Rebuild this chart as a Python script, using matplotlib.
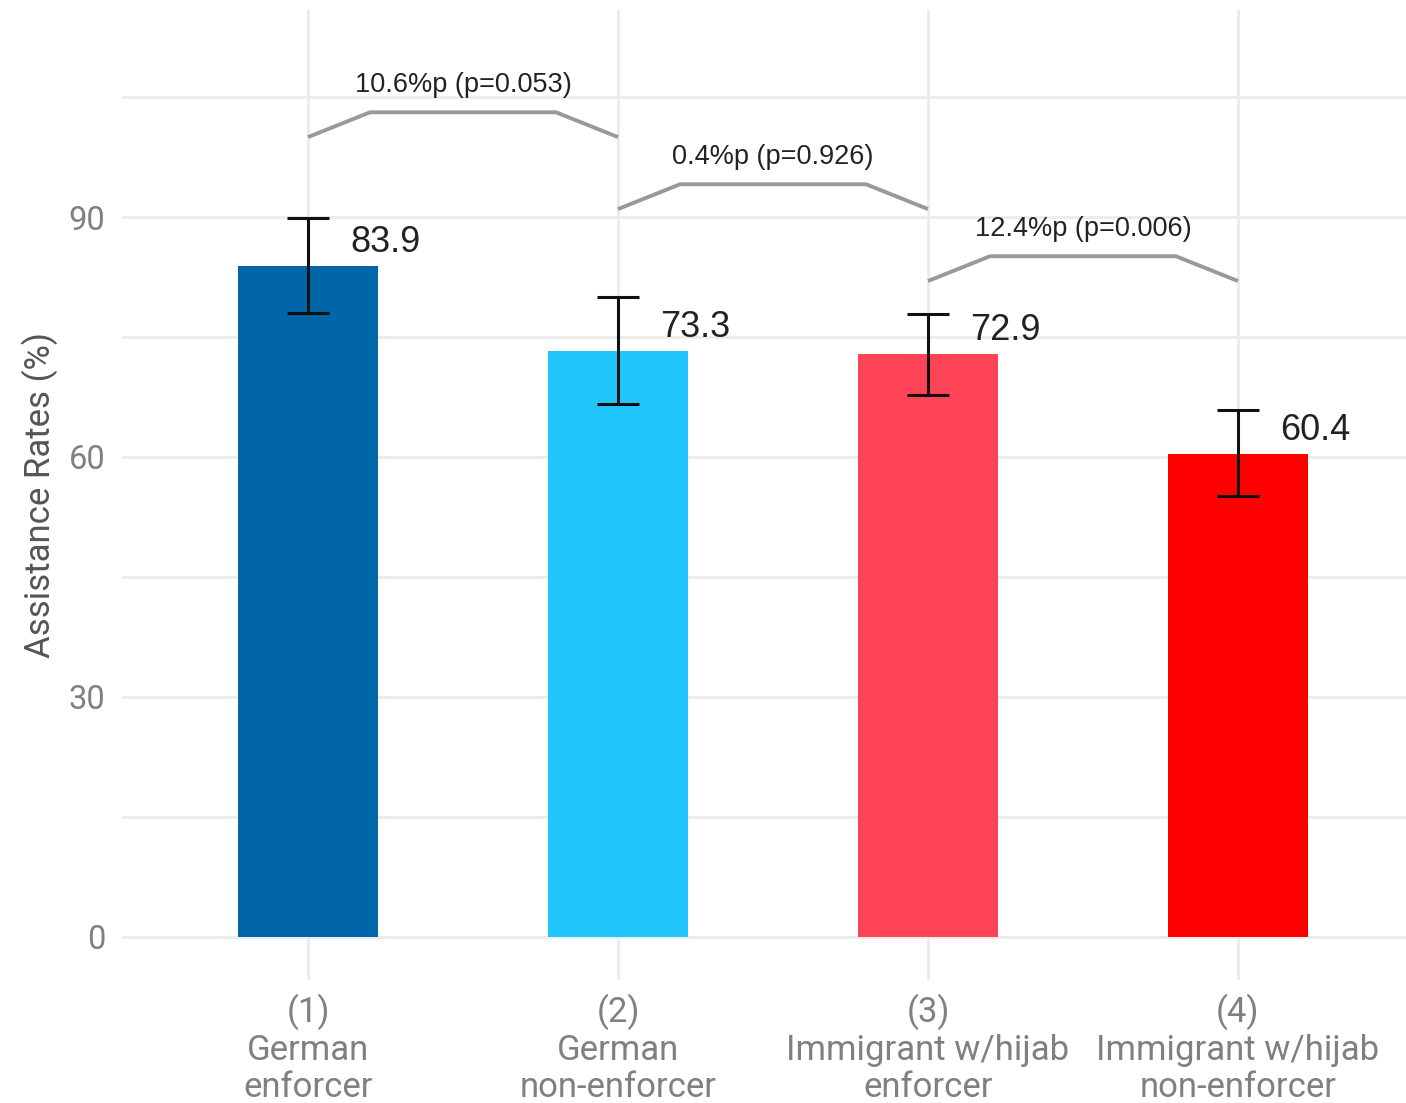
import numpy as np
import matplotlib
matplotlib.use('Agg')
import matplotlib.pyplot as plt

groups = ['(1)\nGerman\nenforcer', '(2)\nGerman\nnon-enforcer',
          '(3)\nImmigrant w/hijab\nenforcer', '(4)\nImmigrant w/hijab\nnon-enforcer']
rates = [83.9, 73.3, 72.9, 60.4]
ci_low = [78.0, 66.6, 67.8, 55.1]
ci_high = [89.9, 80.0, 77.9, 65.9]
colors = ['#0066AA', '#22C6FF', '#FF4458', '#FF0000']

# pairwise comparisons: (from, to, base height, label)
pairs = [(1, 2), (2, 3), (3, 4)]
pair_base = [100.0, 91.0, 82.0]
pair_text = ['10.6%p (p=0.053)', '0.4%p (p=0.926)', '12.4%p (p=0.006)']

x = np.arange(1, len(rates) + 1)

fig = plt.figure(figsize=(14.06, 11.03), dpi=100)
ax = fig.add_axes([0.0868, 0.1115, 0.9132, 0.8795])

grid_c = '#EBEBEB'
for yv in [0, 15, 30, 45, 60, 75, 90, 105]:
    ax.axhline(yv, color=grid_c, lw=2, zorder=0)
for xv in x:
    ax.axvline(xv, color=grid_c, lw=2, zorder=0)

ax.bar(x, rates, width=0.45, color=colors, zorder=2)
r = np.array(rates)
yerr = np.array([r - np.array(ci_low), np.array(ci_high) - r])
ax.errorbar(x, rates, yerr=yerr, fmt='none', ecolor='#111111',
            elinewidth=2.2, capsize=15, capthick=2.2, zorder=3)

for xi, v in zip(x, rates):
    ax.text(xi + 0.25, v + 2.9, f'{v:.1f}', ha='center', va='center',
            fontsize=26, family='Liberation Sans', color='#222222', zorder=4)

for (a, b), base, lab in zip(pairs, pair_base, pair_text):
    top = base + 3.1
    ax.plot([a, a + 0.2, b - 0.2, b], [base, top, top, base],
            color='#999999', lw=2.8, zorder=3, solid_capstyle='butt')
    ax.text((a + b) / 2, top + 3.4, lab, ha='center', va='center',
            fontsize=19.5, family='Liberation Sans', color='#222222')

ax.set_xlim(0.4, 4.542)
ax.set_ylim(-5.4, 115.9)
ax.set_yticks([0, 30, 60, 90])
ax.set_xticks(x)
ax.set_xticklabels(groups, family='Roboto', fontsize=25, color='#808080',
                   linespacing=1.14)
for t in ax.get_yticklabels():
    t.set_family('Roboto')
    t.set_fontsize(23.5)
    t.set_color('#808080')
ax.tick_params(axis='both', length=0)
ax.tick_params(axis='x', pad=10)
ax.tick_params(axis='y', pad=12)
ax.set_ylabel('Assistance Rates (%)', family='Roboto', fontsize=25,
              color='#555555', labelpad=8)
for s in ax.spines.values():
    s.set_visible(False)

fig.savefig('out.png', dpi=100)
